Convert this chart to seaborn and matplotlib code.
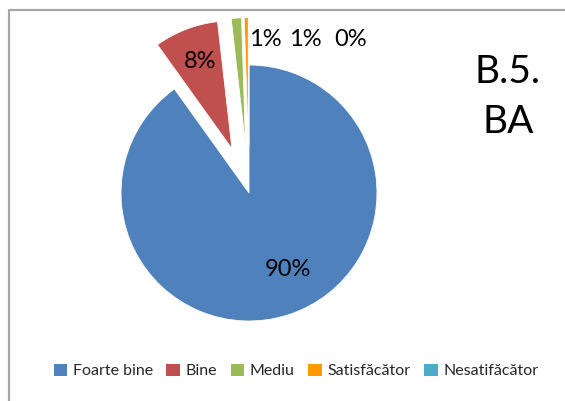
import matplotlib
matplotlib.use("Agg")
import matplotlib.pyplot as plt
import seaborn as sns
from matplotlib.patches import Patch
from matplotlib.lines import Line2D

# Données
categories = ["Foarte bine", "Bine", "Mediu", "Satisfăcător", "Nesatifăcător"]
valeurs = [90.1, 8.1, 1.3, 0.5, 0.0]
etiquettes = ["90%", "8%", "1%", "1%", "0%"]
titre = "B.5.\nBA"

sns.set_style("white")
plt.rcParams['font.family'] = ['Lato', 'DejaVu Sans']
couleurs = ["#4F81BD", "#C0504D", "#9BBB59", "#FF9900", "#4BACC6"]

W, H = 565, 401
fig = plt.figure(figsize=(W / 100, H / 100), dpi=100)
ax = fig.add_axes([0, 0, 1, 1])

# centre du camembert et rayon (en pixels)
cx, cy, r = 249, 193, 128
explode = [0, 0.37, 0.37, 0.37, 0.37]
wedges, _ = ax.pie(valeurs, colors=couleurs, startangle=90, counterclock=False,
                   explode=explode, wedgeprops=dict(linewidth=0.6, edgecolor="white"))
ax.set_xlim(-cx / r, (W - cx) / r)
ax.set_ylim(-(H - cy) / r, cy / r)
ax.set_aspect('equal')
ax.axis('off')

# positions des étiquettes (pixels de la figure)
pos_etiquettes = [(288, 270), (200, 62), (265, 40), (305, 40), (351, 40)]
for txt, (px, py) in zip(etiquettes, pos_etiquettes):
    ax.text((px - cx) / r, (cy - py) / r, txt, ha='center', va='center',
            fontsize=17, color='black')

# titre à droite
fig.text(508 / W, 1 - 97 / H, titre, ha='center', va='center', fontsize=28,
         linespacing=1.5, color='black')

# légende
poignees = [Patch(facecolor=c, edgecolor='none') for c in couleurs]
fig.legend(poignees, categories, loc='center', bbox_to_anchor=(296 / W, 1 - 371 / H),
           ncol=5, frameon=False, fontsize=11.5, handlelength=0.85, handleheight=0.85,
           handletextpad=0.35, columnspacing=0.85)

# cadre gris (haut et gauche)
fig.add_artist(Line2D([9 / W, 9 / W, 1.0], [0.0, 1 - 10 / H, 1 - 10 / H],
                      transform=fig.transFigure, color='#A6A6A6', linewidth=1.6))

fig.savefig("out.png", dpi=100)
